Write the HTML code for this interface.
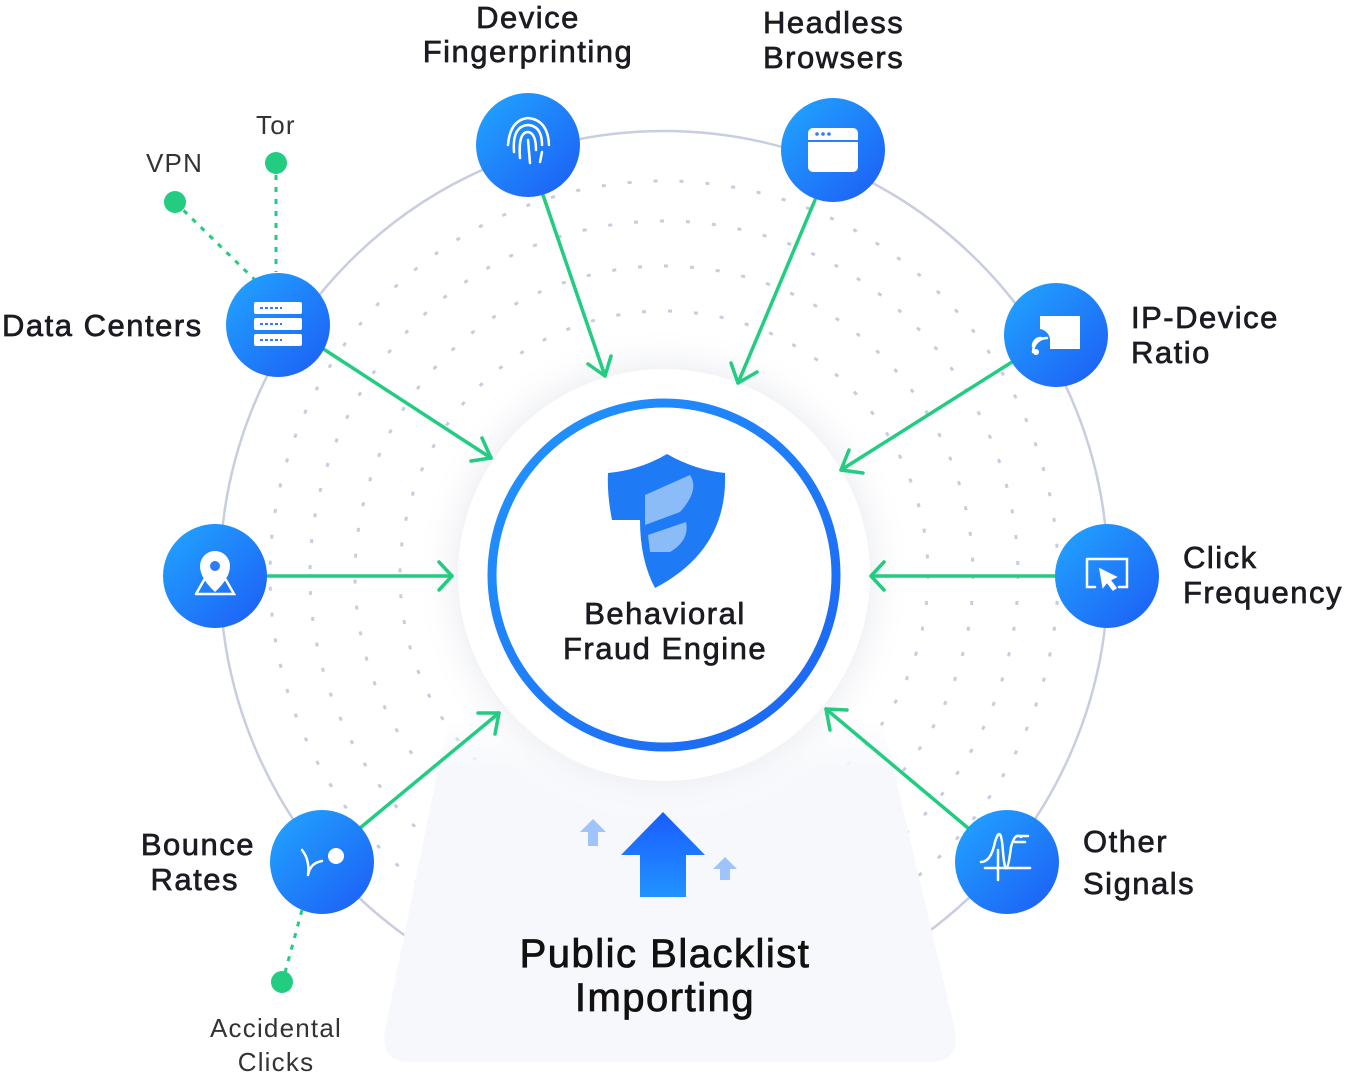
<!DOCTYPE html>
<html><head><meta charset="utf-8"><style>
html,body{margin:0;padding:0;background:#fff}
svg{display:block}
text{font-family:"Liberation Sans",sans-serif;fill:#1b1b22}
.l{font-size:31px;stroke:#1b1b22;stroke-width:0.7;letter-spacing:1.5px}
.s{font-size:26px;fill:#333;letter-spacing:1.2px}
</style></head><body>
<svg width="1353" height="1080" viewBox="0 0 1353 1080" xmlns="http://www.w3.org/2000/svg">
<defs>
<linearGradient id="g" x1="0" y1="0" x2="1" y2="1"><stop offset="0" stop-color="#22a6ff"/><stop offset="1" stop-color="#1c5cf5"/></linearGradient>
<linearGradient id="ring" x1="0" y1="0" x2="1" y2="1"><stop offset="0" stop-color="#2196ff"/><stop offset="1" stop-color="#1c63f2"/></linearGradient>
<linearGradient id="arr" x1="0" y1="0" x2="0" y2="1"><stop offset="0" stop-color="#1a5cff"/><stop offset="1" stop-color="#2193ff"/></linearGradient>
<linearGradient id="pan" x1="0" y1="0" x2="0" y2="1"><stop offset="0" stop-color="#f7f8fc" stop-opacity="0"/><stop offset="0.15" stop-color="#f7f8fc"/><stop offset="1" stop-color="#f7f8fc"/></linearGradient>
<radialGradient id="glow" cx="0.5" cy="0.5" r="0.5"><stop offset="0.8" stop-color="#eff0f4"/><stop offset="1" stop-color="#ffffff" stop-opacity="0"/></radialGradient>
</defs>
<circle cx="664" cy="575" r="444" fill="none" stroke="#c9cde0" stroke-width="2.5"/>
<g fill="none" stroke="#c8ccdd" stroke-width="3" stroke-dasharray="4 22">
<circle cx="664" cy="575" r="394"/><circle cx="664" cy="575" r="354"/><circle cx="664" cy="575" r="309"/><circle cx="664" cy="575" r="264"/>
</g>
<path d="M448 720 L882 720 L955 1030 Q960 1062 930 1062 L410 1062 Q380 1062 385 1030 Z" fill="url(#pan)"/>
<circle cx="664" cy="575" r="250" fill="url(#glow)"/>
<circle cx="664" cy="575" r="206" fill="#fff"/>
<circle cx="664" cy="575" r="172" fill="none" stroke="url(#ring)" stroke-width="9"/>
<path d="M608 473 Q640 470 667 454 Q695 470 725 473 Q728 550 655 588 Q640 560 640 520 L612 520 Q607 495 608 473Z" fill="#1e7bf5"/>
<path d="M645 495 L690 475 Q700 490 680 512 L645 525Z M648 535 L686 522 Q690 540 670 552 L650 552Z" fill="#a8cdf7" opacity="0.8"/>
<text x="665" y="624" text-anchor="middle" class="l">Behavioral</text>
<text x="665" y="659" text-anchor="middle" class="l">Fraud Engine</text>
<g stroke="#22cc80" stroke-width="3.5" fill="none" stroke-linecap="round" stroke-linejoin="round">
<line x1="543" y1="195" x2="605" y2="376"/><polyline points="588,364 605,376 611,356"/>
<line x1="815" y1="200" x2="738" y2="383"/><polyline points="731,363 738,383 757,372"/>
<line x1="1012" y1="362" x2="841" y2="470"/><polyline points="849,450 841,470 863,473"/>
<line x1="1055" y1="576" x2="871" y2="576"/><polyline points="884,562 871,576 884,590"/>
<line x1="968" y1="828" x2="826" y2="709"/><polyline points="847,710 826,709 830,730"/>
<line x1="360" y1="828" x2="499" y2="713"/><polyline points="478,713 499,713 495,734"/>
<line x1="268" y1="576" x2="452" y2="576"/><polyline points="439,562 452,576 439,590"/>
<line x1="322" y1="348" x2="491" y2="458"/><polyline points="471,461 491,458 482,438"/>
</g>
<g stroke="#22cc80" stroke-width="3" stroke-dasharray="5 7" fill="none">
<line x1="276" y1="163" x2="276" y2="272"/><line x1="175" y1="202" x2="255" y2="280"/><line x1="302" y1="910" x2="283" y2="980"/>
</g>
<g fill="#22cc80"><circle cx="276" cy="163" r="11"/><circle cx="175" cy="202" r="11"/><circle cx="282" cy="982" r="11"/></g>
<g fill="url(#g)">
<circle cx="528" cy="145" r="52"/><circle cx="833" cy="150" r="52"/><circle cx="1056" cy="335" r="52"/><circle cx="1107" cy="576" r="52"/>
<circle cx="1007" cy="862" r="52"/><circle cx="322" cy="862" r="52"/><circle cx="215" cy="576" r="52"/><circle cx="278" cy="325" r="52"/>
</g>
<g fill="none" stroke="#fff" stroke-width="2.5" stroke-linecap="round">
<path d="M508 145 Q510 120 528 118 Q548 120 549 145 M514 152 Q512 126 528 125 Q542 126 542 145 M520 158 Q518 132 528 132 Q536 133 536 150 M528 140 L530 163 M542 152 L540 162"/>
<path d="M1087 559 h40 v28 h-8 M1095 587 h-8 v-28"/><path d="M1100 569 l16 8 -6 3 6 8 -3 2 -6 -8 -4 5z" fill="#fff" stroke-width="1.5"/>
<path d="M981 862 q10 0 14 -20 q6 -20 8 10 q3 35 8 -5 q4 -15 10 -10 M998 850 v30 M985 868 h45 M1018 836 h10 M1015 842 h10"/>
<path d="M302 850 q8 10 6 25 M308 875 q2 -12 14 -14"/>
<path d="M1033 352 a14 14 0 0 1 14 -14 M1033 346 a8 8 0 0 1 8 -8"/>
<path d="M196 594 h38 l-8 -14 M196 594 l8 -14"/>
</g>
<circle cx="336" cy="856" r="8" fill="#fff"/>
<rect x="808" y="128" width="50" height="44" rx="5" fill="#fff"/><rect x="808" y="140" width="50" height="2" fill="#2a7dfc"/>
<g fill="#2a7dfc"><circle cx="817" cy="134" r="1.8"/><circle cx="823" cy="134" r="1.8"/><circle cx="829" cy="134" r="1.8"/></g>
<path d="M1040 316 h40 v33 h-30 v-10 a12 12 0 0 0 -10 -10z" fill="#fff"/><circle cx="1036" cy="352" r="3" fill="#fff"/>
<path d="M215 551 a15 15 0 0 1 15 15 q0 12 -15 26 q-15 -14 -15 -26 a15 15 0 0 1 15 -15z" fill="#fff"/><circle cx="215" cy="566" r="5" fill="#2a7dfc"/>
<g fill="#fff"><rect x="254" y="302" width="48" height="12" rx="2"/><rect x="254" y="318" width="48" height="12" rx="2"/><rect x="254" y="334" width="48" height="12" rx="2"/></g>
<g stroke="#2a7dfc" stroke-width="2" stroke-dasharray="3 2"><line x1="260" y1="308" x2="282" y2="308"/><line x1="260" y1="324" x2="282" y2="324"/><line x1="260" y1="340" x2="282" y2="340"/></g>
<path d="M663 812 L705 855 L686 855 L686 897 L640 897 L640 855 L621 855Z" fill="url(#arr)"/>
<path d="M593 819 L606 832 L598 832 L598 846 L588 846 L588 832 L580 832Z" fill="#9fc3fb"/>
<path d="M725 857 L737 869 L730 869 L730 880 L720 880 L720 869 L713 869Z" fill="#9fc3fb"/>
<text x="528" y="28" text-anchor="middle" class="l">Device</text>
<text x="528" y="62" text-anchor="middle" class="l">Fingerprinting</text>
<text x="763" y="33" class="l">Headless</text><text x="763" y="68" class="l">Browsers</text>
<text x="1131" y="328" class="l">IP-Device</text><text x="1131" y="363" class="l">Ratio</text>
<text x="1183" y="568" class="l">Click</text><text x="1183" y="603" class="l">Frequency</text>
<text x="1083" y="852" class="l">Other</text><text x="1083" y="894" class="l">Signals</text>
<text x="255" y="855" text-anchor="end" class="l">Bounce</text><text x="239" y="890" text-anchor="end" class="l">Rates</text>
<text x="2" y="336" class="l">Data Centers</text>
<text x="256" y="134" class="s">Tor</text><text x="146" y="172" class="s">VPN</text>
<text x="276" y="1037" text-anchor="middle" class="s">Accidental</text><text x="276" y="1071" text-anchor="middle" class="s">Clicks</text>
<text x="665" y="967" text-anchor="middle" style="font-size:40px;stroke:#111;stroke-width:0.8;fill:#111;letter-spacing:1.5px">Public Blacklist</text>
<text x="665" y="1011" text-anchor="middle" style="font-size:40px;stroke:#111;stroke-width:0.8;fill:#111;letter-spacing:1.5px">Importing</text>
</svg>
</body></html>
